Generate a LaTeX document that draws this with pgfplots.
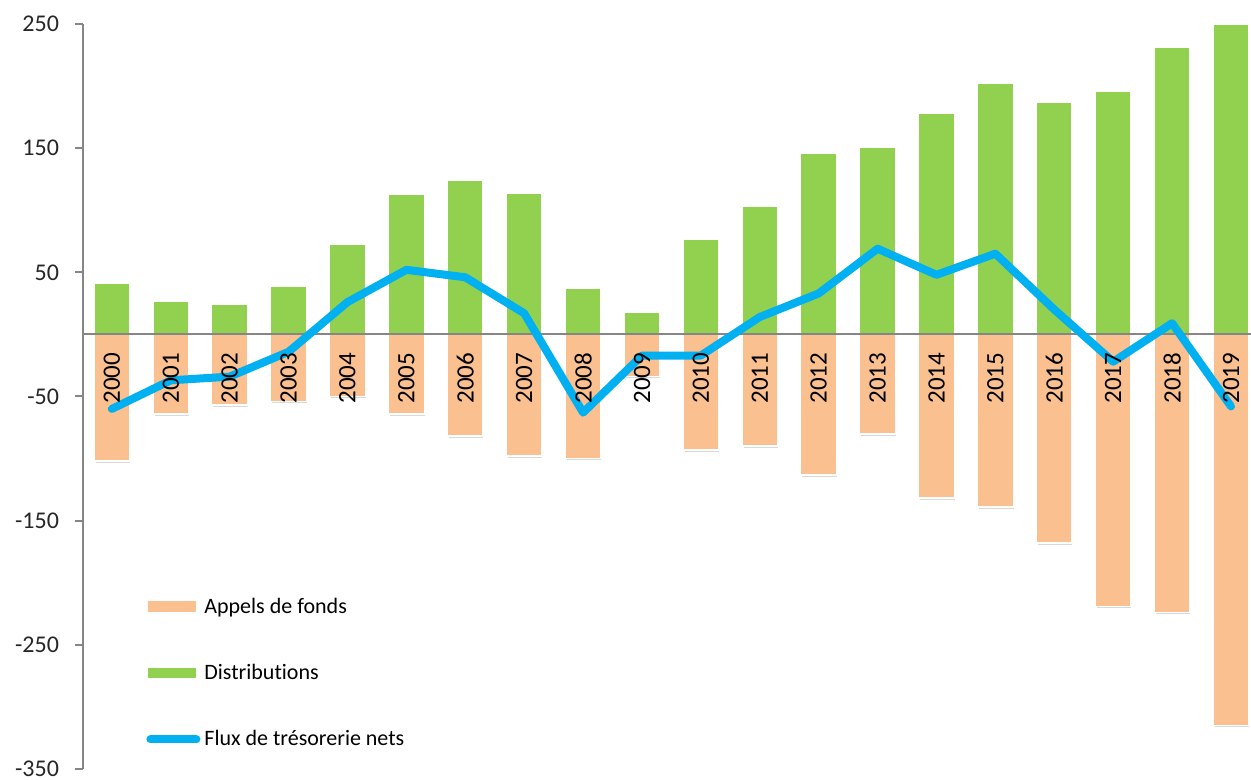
\documentclass[border=0pt]{standalone}
\usepackage{pgfplots}
\pgfplotsset{compat=1.18}
\usepackage{pgfplotstable}
\usepackage{fontspec}
\setmainfont{Carlito}[Ligatures=NoCommon]

\definecolor{appels}{HTML}{FAC090}
\definecolor{distrib}{HTML}{92D050}
\definecolor{flux}{HTML}{00B0F0}
\definecolor{axisgray}{HTML}{868686}

\pgfplotsset{
  legapp/.style={legend image code/.code={\fill[appels] (0pt,-2.5pt) rectangle (23.5pt,2.5pt);}},
  legdist/.style={legend image code/.code={\fill[distrib] (0pt,-2.3pt) rectangle (23.5pt,2.3pt);}},
  legflux/.style={legend image code/.code={\draw[flux, line width=4pt, line cap=round] (1pt,0pt) -- (24pt,0pt);}},
  colbar/.style={ybar, bar width=18pt, bar shift=0pt, draw=white, line width=0.8pt,
    preaction={fill=black!15, transform canvas={xshift=0.5pt, yshift=-1.3pt}}},
}

% year, distributions, appels de fonds, flux nets
\pgfplotstableread{
x label dist appels net
0  2000 41  -102 -60
1  2001 27  -64  -37
2  2002 24  -57  -34
3  2003 39  -54  -14
4  2004 73  -50  26
5  2005 113 -64  52
6  2006 124 -82  46
7  2007 114 -98  17
8  2008 37  -100 -63
9  2009 18  -34  -17
10 2010 77  -93  -17
11 2011 103 -90  14
12 2012 146 -113 33
13 2013 151 -80  69
14 2014 178 -132 48
15 2015 202 -139 65
16 2016 187 -168 20
17 2017 196 -219 -22
18 2018 231 -224 9
19 2019 250 -315 -58
}\data

\begin{document}
\begin{tikzpicture}
\begin{axis}[
  name=ax,
  scale only axis, width=584pt, height=372.5pt,
  xmin=-0.49, xmax=19.34, ymin=-350, ymax=250,
  clip=false,
  axis x line=none, axis y line=left,
  y axis line style={axisgray, line width=1pt, -},
  ytick={-350,-250,-150,-50,50,150,250},
  yticklabels={-350,-250,-150,-50,50,150,250},
  ytick style={axisgray, line width=1pt},
  major tick length=4pt, tick align=outside,
  yticklabel style={font=\fontsize{12}{14}\selectfont, xshift=-4.5pt, text=black!85},
  legend style={draw=none, fill=none, inner sep=0pt,
    at={(axis cs:-0.49,-350)}, anchor=south west, xshift=31.5pt, yshift=8pt,
    font=\fontsize{11}{13}\selectfont, row sep=20pt},
  legend cell align=left,
]
\addplot[colbar, fill=distrib, forget plot] table[x=x, y=dist] \data;
\addplot[colbar, fill=appels, forget plot] table[x=x, y=appels] \data;
\addplot[axisgray, line width=1pt, forget plot] coordinates {(-0.49,0) (19.34,0)};
\addplot[draw=none, mark=none, forget plot, nodes near coords, point meta=explicit symbolic,
  nodes near coords style={yshift=-9pt, rotate=90, anchor=east, inner sep=0pt,
    font=\fontsize{12.5}{14}\selectfont, text=black}]
  table[x=x, y expr=0, meta=label] \data;
\addplot[flux, line width=4pt, line join=round, line cap=round, forget plot]
  table[x=x, y=net] \data;
\addlegendimage{legapp}
\addlegendentry{Appels de fonds}
\addlegendimage{legdist}
\addlegendentry{Distributions}
\addlegendimage{legflux}
\addlegendentry{Flux de trésorerie nets}
\end{axis}
\pgfresetboundingbox
\path (ax.south west) ++(-41.5pt,-5.5pt) rectangle ([yshift=12pt]ax.north east);
\end{tikzpicture}
\end{document}
